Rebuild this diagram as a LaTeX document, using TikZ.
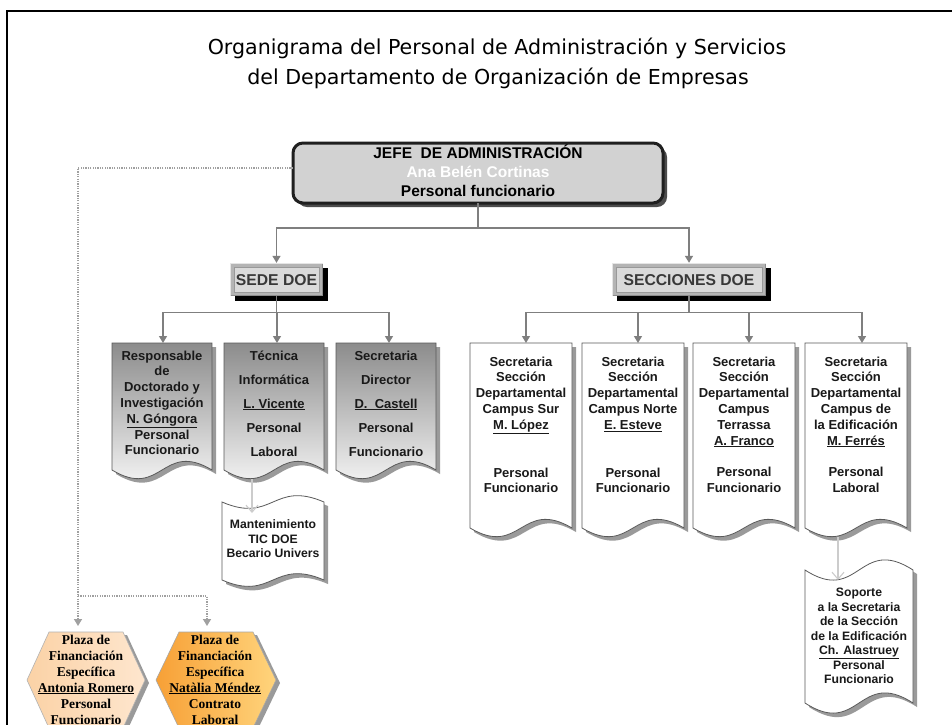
\documentclass[tikz,border=0pt]{standalone}
\usepackage{fontspec}
\setmainfont{Liberation Sans}
\newfontfamily\titlefont{DejaVu Sans}
\newfontfamily\timesfont{Liberation Serif}
\usetikzlibrary{arrows.meta}
\definecolor{lnk}{HTML}{7F7F7F}
\definecolor{dotc}{HTML}{A0A0A0}
\definecolor{jefefill}{HTML}{D2D2D2}
\definecolor{btnouter}{HTML}{B4B4B4}
\definecolor{btninner}{HTML}{DADADA}
\definecolor{sedetop}{HTML}{8C8C8C}
\definecolor{shadowc}{HTML}{9A9A9A}
\definecolor{hexAL}{HTML}{FBD2A6}
\definecolor{hexAR}{HTML}{FEE6CE}
\definecolor{hexBL}{HTML}{F7A036}
\definecolor{hexBR}{HTML}{FFD47C}
\tikzset{
 conn/.style={draw=lnk, line width=1.3pt, -{Triangle[width=8pt,length=7pt]}},
 dotconn/.style={draw=dotc, line width=1.4pt, dash pattern=on 1.2pt off 1.2pt, -{Triangle[width=8pt,length=7pt]}, shorten >=6pt},
 lconn/.style={draw=black!20, line width=1.1pt, -{Straight Barb[width=12pt,length=7pt]}},
 anchorbox/.style={inner sep=0pt, outer sep=0pt},
 titletxt/.style={font=\titlefont\fontsize{20.6}{24}\selectfont, text height=15pt, text depth=0pt, inner sep=0pt},
 jtxt/.style={font=\bfseries\fontsize{15.5}{18}\selectfont, text height=11.1pt, text depth=0pt, inner sep=0pt},
 btntxt/.style={font=\bfseries\fontsize{15.7}{18}\selectfont, text=black!78, text height=11.2pt, text depth=0pt, inner sep=0pt},
 boxtxt/.style={font=\bfseries\fontsize{13}{15.8}\selectfont, align=center, anchor=north, inner sep=0pt, text=black!90},
 widetxt/.style={boxtxt, font=\bfseries\fontsize{13}{24}\selectfont},
 smalltxt/.style={boxtxt, font=\bfseries\fontsize{12.2}{14.5}\selectfont},
 hextxt/.style={font=\timesfont\bfseries\fontsize{13.5}{16}\selectfont, align=center, anchor=north, inner sep=0pt},
 sedebox/.style={top color=sedetop, bottom color=white, draw=black!65, line width=0.8pt},
 seccbox/.style={fill=white, draw=black!65, line width=0.8pt},
 tapebox/.style={fill=white, draw=black!65, line width=0.8pt},
 hexstyleA/.style={left color=hexAL, right color=hexAR, draw=black!30, line width=0.6pt},
 hexstyleB/.style={left color=hexBL, right color=hexBR, draw=black!35, line width=0.6pt},
}
% name, x1, top, x2, ybottom, amplitude, style
\newcommand{\mkdoc}[7]{%
 \fill[shadowc] ({#2+4},{#3+4}) -- ({#4+4},{#3+4}) -- ({#4+4},{#5+4}) .. controls ({(#2+#4)/2+4},{#5-#6+4}) and ({(#2+#4)/2+4},{#5+#6+4}) .. ({#2+4},{#5+4}) -- cycle;
 \path[#7] (#2,#3) -- (#4,#3) -- (#4,#5) .. controls ({(#2+#4)/2},{#5-#6}) and ({(#2+#4)/2},{#5+#6}) .. (#2,#5) -- cycle;
 \node[anchorbox, minimum width={#4-#2}, minimum height={#5-#3}] (#1) at ({(#2+#4)/2},{(#3+#5)/2}) {};
}
\newcommand{\mktape}[7]{%
 \fill[shadowc] ({#2+4},{#3+4}) .. controls ({(#2+#4)/2+4},{#3+#6+4}) and ({(#2+#4)/2+4},{#3-#6+4}) .. ({#4+4},{#3+4}) -- ({#4+4},{#5+4}) .. controls ({(#2+#4)/2+4},{#5-#6+4}) and ({(#2+#4)/2+4},{#5+#6+4}) .. ({#2+4},{#5+4}) -- cycle;
 \path[#7] (#2,#3) .. controls ({(#2+#4)/2},{#3+#6}) and ({(#2+#4)/2},{#3-#6}) .. (#4,#3) -- (#4,#5) .. controls ({(#2+#4)/2},{#5-#6}) and ({(#2+#4)/2},{#5+#6}) .. (#2,#5) -- cycle;
 \node[anchorbox, minimum width={#4-#2}, minimum height={#5-#3}] (#1) at ({(#2+#4)/2},{(#3+#5)/2}) {};
}
% name, cx, cy, half width, half top, half height, style
\newcommand{\mkhex}[7]{%
 \fill[shadowc] ({#2-#5+4},{#3-#6+3}) -- ({#2+#5+4},{#3-#6+3}) -- ({#2+#4+4},{#3+3}) -- ({#2+#5+4},{#3+#6+3}) -- ({#2-#5+4},{#3+#6+3}) -- ({#2-#4+4},{#3+3}) -- cycle;
 \path[#7] ({#2-#5},{#3-#6}) -- ({#2+#5},{#3-#6}) -- ({#2+#4},{#3}) -- ({#2+#5},{#3+#6}) -- ({#2-#5},{#3+#6}) -- ({#2-#4},{#3}) -- cycle;
 \node[anchorbox, minimum width={2*#4}, minimum height={2*#6}] (#1) at (#2,#3) {};
}
% name, x1, y1, x2, y2, text
\newcommand{\mkbutton}[6]{%
 \fill[black] ({#2+5},{#3+5}) rectangle ({#4+5},{#5+5});
 \fill[btnouter] (#2,#3) rectangle (#4,#5);
 \draw[white!80!gray, line width=1pt] ({#2+0.5},{#5-0.5}) -- ({#2+0.5},{#3+0.5}) -- ({#4-0.5},{#3+0.5});
 \draw[black!45, line width=1pt] ({#2+0.5},{#5-0.5}) -- ({#4-0.5},{#5-0.5}) -- ({#4-0.5},{#3+0.5});
 \fill[btninner, draw=black!40, line width=0.6pt] ({#2+4},{#3+4}) rectangle ({#4-4},{#5-4});
 \node[btntxt, minimum width={#4-#2}, minimum height={#5-#3}] (#1) at ({(#2+#4)/2},{(#3+#5)/2}) {#6};
}
\begin{document}
\begin{tikzpicture}[x=1pt,y=-1pt]
\useasboundingbox (0,0) rectangle (952,724);
\clip (0,0) rectangle (952,724);
\fill[white] (0,0) rectangle (952,724);
\draw[line width=2.5pt] (7,740) -- (7,11) -- (970,11);

% title
\node[titletxt] (title1) at (497,47) {Organigrama del Personal de Administración y Servicios};
\node[titletxt] (title2) at (498,77) {del Departamento de Organización de Empresas};

% head box
\fill[black!70, rounded corners=10pt] (297,147) rectangle (667,207);
\filldraw[fill=jefefill, draw=black!88, line width=3pt, rounded corners=10pt] (293,143) rectangle (663,203);
\node[anchorbox, minimum width=370pt, minimum height=60pt] (jefe) at (478,173) {};
\node[jtxt] (jefeA) at (478,153) {JEFE\ \ DE ADMINISTRACIÓN};
\node[jtxt, text=white] (jefeB) at (478,172) {Ana Belén Cortinas};
\node[jtxt] (jefeC) at (478,191) {Personal funcionario};

% section buttons
\mkbutton{sede}{230}{263}{323}{296}{SEDE DOE}
\mkbutton{secc}{612}{263}{766}{296}{SECCIONES DOE}

% document boxes
\mkdoc{d1}{112}{343}{212}{470}{30}{sedebox}
\mkdoc{d2}{224}{343}{324}{470}{30}{sedebox}
\mkdoc{d3}{336}{343}{436}{470}{30}{sedebox}
\mkdoc{s1}{470}{343}{572}{528}{30}{seccbox}
\mkdoc{s2}{582}{343}{684}{528}{30}{seccbox}
\mkdoc{s3}{693}{343}{795}{528}{30}{seccbox}
\mkdoc{s4}{805}{343}{907}{528}{30}{seccbox}
\mktape{mant}{222}{502}{324}{580}{22}{tapebox}
\mktape{sop}{805}{570}{913}{703}{35}{tapebox}
\mkhex{hexA}{86}{680}{59}{37}{48}{hexstyleA}
\mkhex{hexB}{216}{680}{60}{37}{48}{hexstyleB}

% texts
\node[boxtxt] (d1t) at (162,350.4) {\rule{0pt}{9.3pt}Responsable\\de\\Doctorado y\\Investigación\\\underline{N. Góngora}\\Personal\\Funcionario};
\node[widetxt] (d2t) at (274,350.4) {\rule{0pt}{9.3pt}Técnica\\Informática\\\underline{L. Vicente}\\Personal\\Laboral};
\node[widetxt] (d3t) at (386,350.4) {\rule{0pt}{9.3pt}Secretaria\\Director\\\underline{D.\ \ Castell}\\Personal\\Funcionario};
\node[boxtxt] (s1t) at (521,356.4) {\rule{0pt}{9.3pt}Secretaria\\Sección\\Departamental\\Campus Sur\\\underline{M. López}\\[32pt]Personal\\Funcionario};
\node[boxtxt] (s2t) at (633,356.4) {\rule{0pt}{9.3pt}Secretaria\\Sección\\Departamental\\Campus Norte\\\underline{E. Esteve}\\[32pt]Personal\\Funcionario};
\node[boxtxt] (s3t) at (744,356.4) {\rule{0pt}{9.3pt}Secretaria\\Sección\\Departamental\\Campus\\Terrassa\\\underline{A. Franco}\\[16pt]Personal\\Funcionario};
\node[boxtxt] (s4t) at (856,356.4) {\rule{0pt}{9.3pt}Secretaria\\Sección\\Departamental\\Campus de\\la Edificación\\\underline{M. Ferrés}\\[16pt]Personal\\Laboral};
\node[smalltxt] (mantt) at (273,519.6) {\rule{0pt}{8.7pt}Mantenimiento\\TIC DOE\\Becario Univers};
\node[smalltxt] (sopt) at (859,587.7) {\rule{0pt}{8.7pt}Soporte\\a la Secretaria\\de la Sección\\de la Edificación\\\underline{Ch. Alastruey}\\Personal\\Funcionario};
\node[hextxt] (hexAt) at (86,634.5) {\rule{0pt}{8.9pt}Plaza de\\Financiación\\Específica\\\underline{Antonia Romero}\\Personal\\Funcionario};
\node[hextxt] (hexBt) at (215,634.5) {\rule{0pt}{8.9pt}Plaza de\\Financiación\\Específica\\\underline{Natàlia Méndez}\\Contrato\\Laboral};

% connectors
\draw[conn] (jefe.south) -- ++(0,25) -| (sede.north);
\draw[conn] (jefe.south) -- ++(0,25) -| (secc.north);
\draw[conn] (sede.south) -- ++(0,16) -| ([xshift=1pt]d1.north);
\draw[conn] (sede.south) -- ++(0,16) -| ([xshift=3pt]d2.north);
\draw[conn] (sede.south) -- ++(0,16) -| ([xshift=3pt]d3.north);
\draw[conn] (secc.south) -- ++(0,16) -| ([xshift=5pt]s1.north);
\draw[conn] (secc.south) -- ++(0,16) -| ([xshift=5pt]s2.north);
\draw[conn] (secc.south) -- ++(0,16) -| ([xshift=5pt]s3.north);
\draw[conn] (secc.south) -- ++(0,16) -| ([xshift=6pt]s4.north);
\draw[lconn] ([xshift=-22pt,yshift=-9pt]d2.south) -- ([xshift=-21pt,yshift=-11pt]mant.north);
\draw[lconn] ([xshift=-18pt,yshift=-9pt]s4.south) -- ([xshift=-21pt,yshift=-10pt]sop.north);
\coordinate (branch) at (78,596);
\draw[dotconn] ([yshift=5pt]jefe.west) -| ([xshift=-8pt]hexA.north);
\draw[dotconn] (branch) -| ([xshift=-9pt]hexB.north);
\end{tikzpicture}
\end{document}
